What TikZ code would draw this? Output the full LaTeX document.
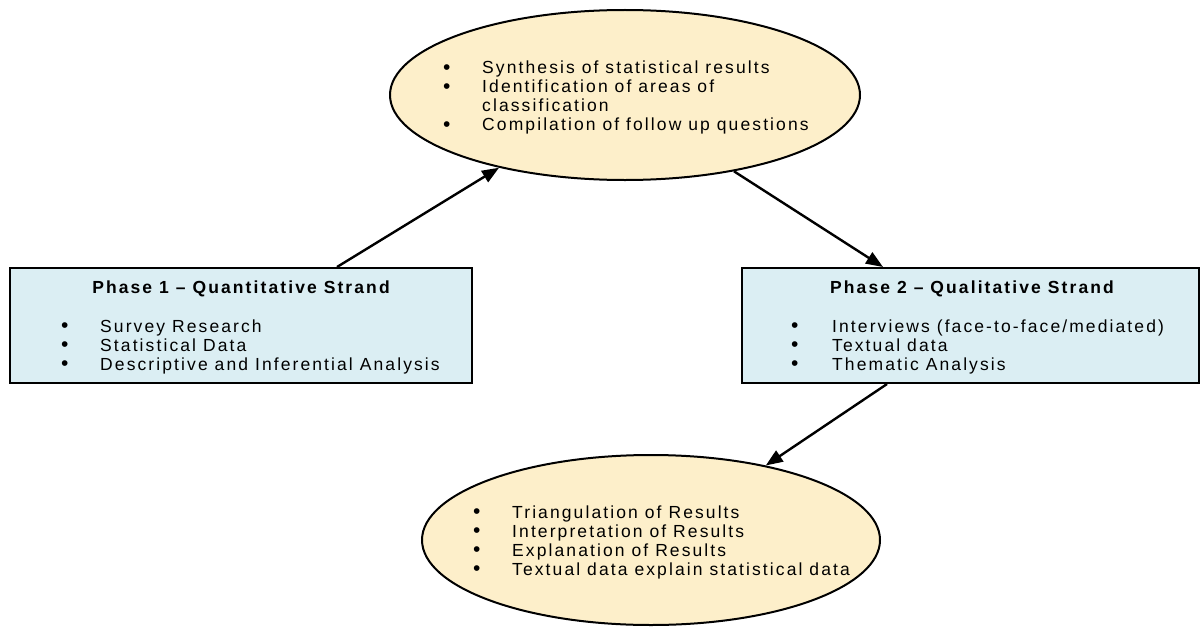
\documentclass[tikz,border=0pt]{standalone}
\usepackage{fontspec}
\setmainfont{Liberation Sans}[LetterSpace=12]
\usetikzlibrary{shapes.geometric,arrows.meta,calc}
\definecolor{cream}{RGB}{253,239,202}
\definecolor{paleblue}{RGB}{219,238,243}
% bullet set in a box of width \bulgap, so the item text starts at a fixed indent
\newlength\bulgap
\setlength\bulgap{39pt}
\newcommand\bul{\makebox[\bulgap][l]{\raisebox{-0.3pt}{\fontsize{21}{19}\selectfont •}}}
\begin{document}
\begin{tikzpicture}[x=1pt,y=-1pt,
  phase/.style={draw=black,line width=2pt,fill=paleblue,rectangle,inner sep=0pt,
    minimum width=462pt,minimum height=115pt},
  blob/.style={draw=black,line width=2pt,fill=cream,ellipse,inner sep=0pt},
  txt/.style={inner sep=0pt,font=\fontsize{17.5}{19}\selectfont},
  head/.style={inner sep=0pt,font=\fontsize{17.5}{19}\selectfont\bfseries},
  flow/.style={line width=2.4pt,-{Triangle[length=17pt,width=13pt]}}]
\useasboundingbox (0,0) rectangle (1201,626);

% shapes
\node[blob,minimum width=470pt,minimum height=170pt] (synth) at (625,95) {};
\node[phase] (quant) at (241,325.5) {};
\node[phase,minimum width=457pt] (qual) at (970.5,325.5) {};
\node[blob,minimum width=458pt,minimum height=170pt] (interp) at (651,540) {};

% texts
\node[txt,anchor=base west] (synthtxt) at (443,74) {\begin{tabular}[t]{@{}l@{}}
\bul Synthesis of statistical results\\
\bul Identification of areas of\\
\hspace*{\bulgap}classification\\
\bul Compilation of follow up questions
\end{tabular}};

\node[head,anchor=base] (quanttitle) at (241,293) {Phase 1 – Quantitative Strand};
\node[txt,anchor=base west] (quanttxt) at (61,332) {\begin{tabular}[t]{@{}l@{}}
\bul Survey Research\\
\bul Statistical Data\\
\bul Descriptive and Inferential Analysis
\end{tabular}};

\node[head,anchor=base] (qualtitle) at (972,293) {Phase 2 – Qualitative Strand};
\node[txt,anchor=base west] (qualtxt) at (791,332) {\setlength\bulgap{41pt}\begin{tabular}[t]{@{}l@{}}
\bul Interviews (face-to-face/mediated)\\
\bul Textual data\\
\bul Thematic Analysis
\end{tabular}};

\node[txt,anchor=base west] (interptxt) at (473,518) {\begin{tabular}[t]{@{}l@{}}
\bul Triangulation of Results\\
\bul Interpretation of Results\\
\bul Explanation of Results\\
\bul Textual data explain statistical data
\end{tabular}};

% connectors
\draw[flow] ([xshift=96pt]quant.north) -- (synth.210.9);
\draw[flow] (synth.325.5) -- ([xshift=-87.5pt]qual.north);
\draw[flow] ([xshift=-83.5pt]qual.south) -- (interp.33.7);
\end{tikzpicture}
\end{document}
